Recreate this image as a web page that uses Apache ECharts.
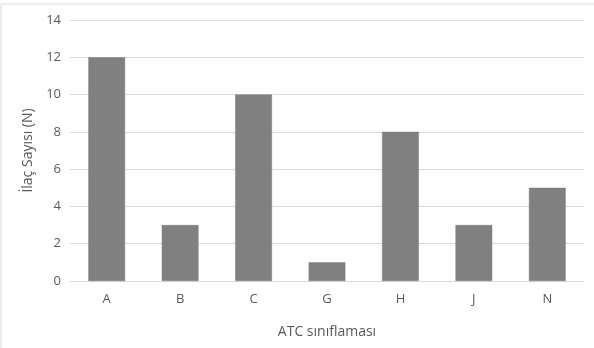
<!DOCTYPE html>
<html>
<head>
<meta charset="utf-8">
<script src="https://cdn.jsdelivr.net/npm/echarts@6/dist/echarts.min.js"></script>
<style>
  html, body { margin: 0; padding: 0; background: #fff; }
  #chart { width: 594px; height: 348px; }
</style>
</head>
<body>
<div id="chart"></div>
<script>
// ATC groups and number of drugs in each
const categories = ['A', 'B', 'C', 'G', 'H', 'J', 'N'];
const drugCounts = [12, 3, 10, 1, 8, 3, 5];
const yTicks = { min: 0, max: 14, interval: 2 };

const FONT = '"Open Sans", "Noto Sans", sans-serif';
const TEXT = '#595959';

const chart = echarts.init(document.getElementById('chart'), null, { renderer: 'canvas' });
chart.setOption({
  animation: false,
  backgroundColor: '#fff',
  textStyle: { fontFamily: FONT },
  graphic: [{
    type: 'rect',
    shape: { x: 1, y: 4, width: 620, height: 380 },
    style: { fill: 'none', stroke: '#d9d9d9', lineWidth: 1 },
    silent: true
  }],
  grid: { left: 70, right: 10, top: 20, bottom: 67, containLabel: false },
  xAxis: {
    type: 'category',
    data: categories,
    axisTick: { show: false },
    axisLine: { show: true, lineStyle: { color: '#d9d9d9', width: 1 } },
    axisLabel: { color: TEXT, fontSize: 13, margin: 12, fontFamily: FONT },
    name: 'ATC sınıflaması',
    nameLocation: 'middle',
    nameGap: 44,
    nameTextStyle: { color: TEXT, fontSize: 14, fontFamily: FONT }
  },
  yAxis: {
    type: 'value',
    min: yTicks.min,
    max: yTicks.max,
    interval: yTicks.interval,
    axisLine: { show: false },
    axisTick: { show: false },
    splitLine: { lineStyle: { color: '#d9d9d9', width: 1 } },
    axisLabel: { color: TEXT, fontSize: 13, margin: 9, fontFamily: FONT },
    name: 'İlaç Sayısı (N)',
    nameLocation: 'middle',
    nameGap: 33,
    nameRotate: 90,
    nameTextStyle: { color: TEXT, fontSize: 14, fontFamily: FONT }
  },
  series: [{
    type: 'bar',
    data: drugCounts,
    barWidth: '50%',
    itemStyle: { color: '#808080', borderColor: '#7a7a7a', borderWidth: 0.5 }
  }]
});
</script>
</body>
</html>
